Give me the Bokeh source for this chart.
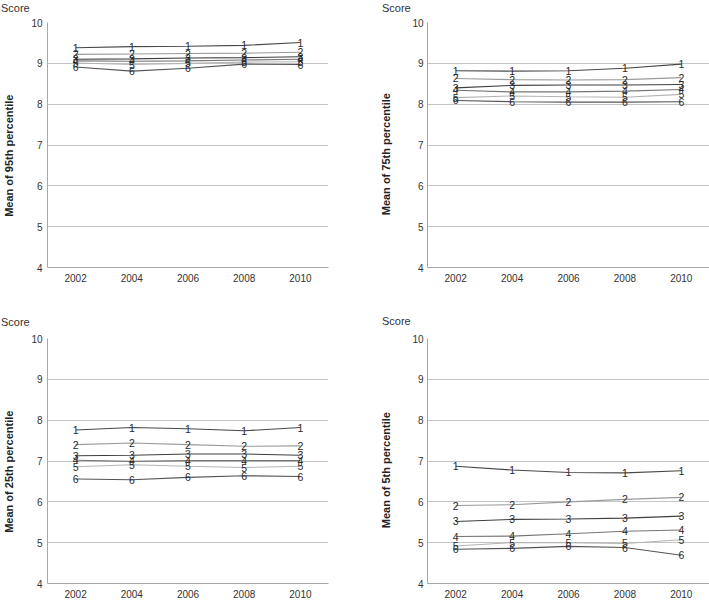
from bokeh.plotting import figure
from bokeh.layouts import column, row
from bokeh.models import ColumnDataSource, FixedTicker, Div
from bokeh.embed import file_html
from bokeh.resources import INLINE
from bokeh.core.properties import value

years = [2002, 2004, 2006, 2008, 2010]
groups = ["1", "2", "3", "4", "5", "6"]

p95_g1 = [9.38, 9.41, 9.42, 9.44, 9.51]
p95_g2 = [9.22, 9.23, 9.24, 9.25, 9.27]
p95_g3 = [9.10, 9.11, 9.13, 9.14, 9.16]
p95_g4 = [9.06, 9.05, 9.06, 9.08, 9.10]
p95_g5 = [9.01, 8.97, 9.00, 9.03, 9.04]
p95_g6 = [8.91, 8.81, 8.88, 8.98, 8.97]

p75_g1 = [8.82, 8.81, 8.82, 8.88, 8.98]
p75_g2 = [8.63, 8.60, 8.59, 8.60, 8.65]
p75_g3 = [8.40, 8.46, 8.47, 8.47, 8.48]
p75_g4 = [8.34, 8.30, 8.30, 8.32, 8.36]
p75_g5 = [8.16, 8.20, 8.18, 8.17, 8.24]
p75_g6 = [8.09, 8.06, 8.05, 8.05, 8.06]

p25_g1 = [7.76, 7.82, 7.79, 7.74, 7.82]
p25_g2 = [7.40, 7.44, 7.40, 7.36, 7.37]
p25_g3 = [7.13, 7.14, 7.17, 7.17, 7.14]
p25_g4 = [7.02, 6.99, 7.01, 7.01, 7.01]
p25_g5 = [6.86, 6.91, 6.87, 6.84, 6.87]
p25_g6 = [6.56, 6.54, 6.60, 6.64, 6.62]

p05_g1 = [6.87, 6.78, 6.72, 6.71, 6.76]
p05_g2 = [5.91, 5.93, 6.00, 6.06, 6.11]
p05_g3 = [5.52, 5.57, 5.58, 5.60, 5.65]
p05_g4 = [5.15, 5.16, 5.22, 5.28, 5.31]
p05_g5 = [4.92, 5.00, 5.00, 4.98, 5.07]
p05_g6 = [4.84, 4.86, 4.91, 4.88, 4.69]

y_ticks = [4, 5, 6, 7, 8, 9, 10]
y_label_95 = "Mean of 95th percentile"
y_label_75 = "Mean of 75th percentile"
y_label_25 = "Mean of 25th percentile"
y_label_05 = "Mean of 5th percentile"
score_text = "Score"

line_colors = ["#474747", "#9a9a9a", "#3e3e3e", "#767676", "#b4b4b4", "#555555"]
FONT = "Liberation Sans"
NBSP = "\u00a0"


def make_panel(series, ylabel, width, height, mb_left, mb_right, mb_top, mb_bottom,
               tick_standoff, label_standoff, x_standoff, label_pad):
    p = figure(width=width, height=height, output_backend="svg", toolbar_location=None,
               x_range=(2001.0, 2011.0), y_range=(4, 10),
               min_border_left=mb_left, min_border_right=mb_right,
               min_border_top=mb_top, min_border_bottom=mb_bottom)
    p.outline_line_color = None
    p.background_fill_color = "white"
    p.border_fill_color = "white"

    for i, vals in enumerate(series):
        src = ColumnDataSource(dict(x=years, y=vals, t=[groups[i]] * len(years)))
        p.line("x", "y", source=src, line_color=line_colors[i], line_width=1.1)
        p.text("x", "y", text="t", source=src, text_align="center", text_baseline="middle",
               text_font=value(FONT), text_font_size="10.5px", text_color="#2a2a2a")

    p.xaxis.ticker = FixedTicker(ticks=years)
    p.yaxis.ticker = FixedTicker(ticks=y_ticks)
    for ax in (p.xaxis[0], p.yaxis[0]):
        ax.major_tick_out = 0
        ax.major_tick_in = 0
        ax.minor_tick_out = 0
        ax.minor_tick_in = 0
        ax.axis_line_color = "#a8a8a8"
        ax.major_label_text_font = FONT
        ax.major_label_text_font_size = "10px"
        ax.major_label_text_color = "#333333"
    p.xaxis.major_label_standoff = x_standoff
    p.yaxis.major_label_standoff = tick_standoff
    p.yaxis.axis_label = ylabel + NBSP * label_pad
    p.yaxis.axis_label_text_font = FONT
    p.yaxis.axis_label_text_font_size = "11px"
    p.yaxis.axis_label_text_font_style = "bold"
    p.yaxis.axis_label_text_color = "#222222"
    p.yaxis.axis_label_standoff = label_standoff
    p.xgrid.grid_line_color = None
    p.ygrid.grid_line_color = "#c4c4c4"
    p.ygrid.ticker = FixedTicker(ticks=y_ticks)
    return p


def score_div(width, height, left, top):
    html = ('<div style="position:relative; left:%dpx; top:%dpx; font-family:\'Liberation Sans\';'
            ' font-size:11px; line-height:12px; color:#333333; white-space:nowrap;">%s</div>'
            % (left, top, score_text))
    return Div(text=html, width=width, height=height, margin=0)


d1 = score_div(354, 12, 1, 0)
d2 = score_div(355, 12, 28, 0)
d3 = score_div(354, 26, 1, 14)
d4 = score_div(355, 26, 28, 13)

p1 = make_panel([p95_g1, p95_g2, p95_g3, p95_g4, p95_g5, p95_g6], y_label_95,
                354, 288, 45, 26, 10, 33, 5, 13, 6, 7)
p2 = make_panel([p75_g1, p75_g2, p75_g3, p75_g4, p75_g5, p75_g6], y_label_75,
                355, 288, 73, 0, 10, 33, 4, 17, 6, 6)
p3 = make_panel([p25_g1, p25_g2, p25_g3, p25_g4, p25_g5, p25_g6], y_label_25,
                354, 275, 45, 26, 12, 18, 5, 13, 6, 7)
p4 = make_panel([p05_g1, p05_g2, p05_g3, p05_g4, p05_g5, p05_g6], y_label_05,
                355, 275, 73, 0, 12, 18, 4, 17, 6, 6)

layout = column(row(d1, d2), row(p1, p2), row(d3, d4), row(p3, p4))
open("out.html", "w").write(file_html(layout, INLINE))
